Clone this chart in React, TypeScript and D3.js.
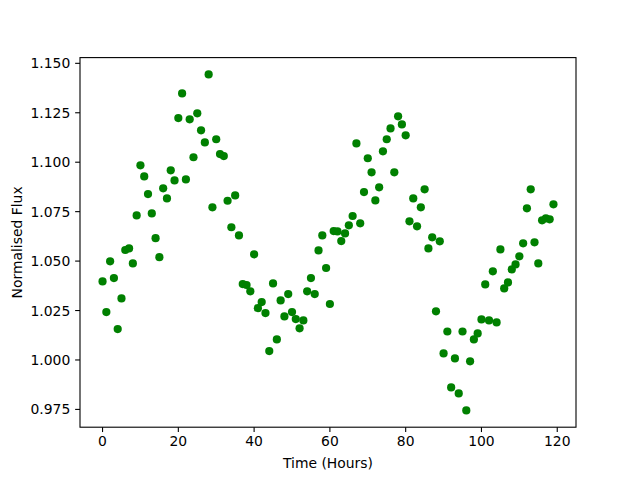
import React from "react";
import * as d3 from "d3";

const hours: number[] = Array.from({ length: 120 }, (_, i) => i);

const flux: number[] = [
  1.0397, 1.0242, 1.0499, 1.0414, 1.0156, 1.0311, 1.0556, 1.0564, 1.0488, 1.0731,
  1.0984, 1.0928, 1.0839, 1.0741, 1.0616, 1.052, 1.0868, 1.0817, 1.0959, 1.0908,
  1.1223, 1.1348, 1.0913, 1.1217, 1.1025, 1.1247, 1.1161, 1.11, 1.1444, 1.0772,
  1.1116, 1.1041, 1.1031, 1.0805, 1.0671, 1.0832, 1.063, 1.0384, 1.0379, 1.0347,
  1.0534, 1.0262, 1.0293, 1.0237, 1.0045, 1.0387, 1.0104, 1.0301, 1.022, 1.0333,
  1.0242, 1.0207, 1.016, 1.02, 1.0347, 1.0414, 1.0333, 1.0554, 1.063, 1.0465,
  1.0283, 1.0652, 1.065, 1.0601, 1.064, 1.0681, 1.0728, 1.1095, 1.0691, 1.0849,
  1.102, 1.0949, 1.0807, 1.0873, 1.1055, 1.1116, 1.1171, 1.0949, 1.1232, 1.1191,
  1.1136, 1.0701, 1.0817, 1.0676, 1.0772, 1.0863, 1.0564, 1.062, 1.0246, 1.06,
  1.0033, 1.0144, 0.9861, 1.0008, 0.9831, 1.0144, 0.9745, 0.9993, 1.0104, 1.0134,
  1.0205, 1.0382, 1.02, 1.0448, 1.019, 1.0559, 1.0362, 1.0392, 1.0458, 1.0483,
  1.0524, 1.059, 1.0767, 1.0863, 1.0595, 1.0488, 1.0706, 1.0716, 1.0711, 1.0787,
];

const xTicks: number[] = [0, 20, 40, 60, 80, 100, 120];
const yTicks: number[] = [0.975, 1.0, 1.025, 1.05, 1.075, 1.1, 1.125, 1.15];

const W = 640;
const H = 480;
const L = 80;
const R = 576;
const T = 57.6;
const B = 427.2;
const FONT = "DejaVu Sans, sans-serif";

function pad(ext: [number, number]): [number, number] {
  const m = (ext[1] - ext[0]) * 0.05;
  return [ext[0] - m, ext[1] + m];
}

export default function App() {
  const xExt = d3.extent(hours) as [number, number];
  const yExt = d3.extent(flux) as [number, number];
  const x = d3.scaleLinear().domain(pad(xExt)).range([L, R]);
  const y = d3.scaleLinear().domain(pad(yExt)).range([B, T]);
  const tl = 4.86;

  return (
    <svg
      width={W}
      height={H}
      style={{ position: "absolute", left: 0, top: 0, background: "#fff" }}
      fontFamily={FONT}
    >
      <rect x={0} y={0} width={W} height={H} fill="#fff" />
      {hours.map((h, i) => (
        <circle key={i} cx={x(h)} cy={y(flux[i])} r={4.1} fill="#008000" />
      ))}
      <rect x={L} y={T} width={R - L} height={B - T} fill="none" stroke="#000" strokeWidth={1.1} />
      {xTicks.map((t) => (
        <g key={"x" + t}>
          <line x1={x(t)} x2={x(t)} y1={B} y2={B + tl} stroke="#000" strokeWidth={1.1} />
          <text x={x(t)} y={B + tl + 3.5 + 10.6} fontSize={13.9} textAnchor="middle" fill="#000">
            {t}
          </text>
        </g>
      ))}
      {yTicks.map((t) => (
        <g key={"y" + t}>
          <line x1={L - tl} x2={L} y1={y(t)} y2={y(t)} stroke="#000" strokeWidth={1.1} />
          <text x={L - tl - 4.9} y={y(t)} dy="0.36em" fontSize={13.9} textAnchor="end" fill="#000">
            {t.toFixed(3)}
          </text>
        </g>
      ))}
      <text x={(L + R) / 2} y={468} fontSize={13.9} textAnchor="middle" fill="#000">
        Time (Hours)
      </text>
      <text
        transform={`translate(21.5, ${(T + B) / 2}) rotate(-90)`}
        fontSize={13.9}
        textAnchor="middle"
        fill="#000"
      >
        Normalised Flux
      </text>
    </svg>
  );
}
